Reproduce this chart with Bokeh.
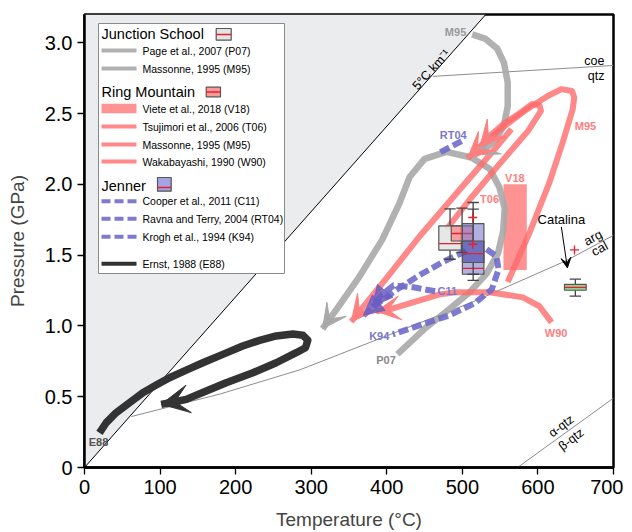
from bokeh.plotting import figure
from bokeh.models import FixedTicker, Arrow, VeeHead, NormalHead, NumeralTickFormatter
from bokeh.core.properties import value
from bokeh.embed import file_html
from bokeh.resources import INLINE

# ---------------- data (T in degC, P in GPa) ----------------
geo_T = [0, 531]
geo_P = [0, 3.2]
coe_T = [461, 700]
coe_P = [2.763, 2.84]
arg_T = [62, 180, 285, 400, 514, 637, 700]
arg_P = [0.36, 0.52, 0.69, 0.93, 1.17, 1.46, 1.64]
aq_T = [573, 700]
aq_P = [0.0, 0.49]

# Junction School
js_m95_T = [513, 530, 546, 555, 560, 560, 555, 545, 530, 516]
js_m95_P = [3.06, 3.03, 2.96, 2.86, 2.72, 2.55, 2.42, 2.32, 2.25, 2.21]
p07_T = [414, 450, 483, 510, 532, 547, 554, 556, 549, 536, 512, 479, 450, 430, 417, 394, 364, 334, 315]
p07_P = [0.80, 0.98, 1.12, 1.24, 1.37, 1.51, 1.67, 1.83, 1.98, 2.11, 2.19, 2.23, 2.18, 2.05, 1.87, 1.61, 1.35, 1.12, 0.98]
# Ring Mountain
rm_m95_T = [560, 589, 615, 633, 646, 648, 645, 631, 613, 582, 549, 525, 507]
rm_m95_P = [1.31, 1.66, 2.01, 2.30, 2.53, 2.615, 2.66, 2.673, 2.624, 2.518, 2.383, 2.27, 2.185]
t06a_T = [479, 510, 547, 587, 604, 602, 592, 576, 556, 536, 523]
t06a_P = [1.683, 1.895, 2.131, 2.378, 2.52, 2.56, 2.567, 2.503, 2.433, 2.341, 2.263]
t06b_T = [565, 543, 496, 443, 397, 353]
t06b_P = [2.39, 2.25, 1.96, 1.63, 1.32, 1.03]
w90_T = [618, 602, 580, 536, 492, 470, 439, 404, 386]
w90_P = [1.025, 1.139, 1.202, 1.238, 1.238, 1.223, 1.174, 1.117, 1.103]
v18_T = [554.4, 585.3]
v18_P = [1.395, 2.001]
# Jenner
c11a_T = [505, 476, 443, 414, 390, 369]
c11a_P = [1.528, 1.457, 1.358, 1.259, 1.167, 1.075]
c11b_T = [464, 435, 409, 394, 381]
c11b_P = [1.245, 1.273, 1.287, 1.223, 1.139]
k94_T = [532, 545, 548, 539, 516, 483, 443, 408]
k94_P = [1.542, 1.492, 1.400, 1.259, 1.160, 1.075, 1.004, 0.941]
rt04_T = [471, 499]
rt04_P = [2.228, 2.305]
# Ernst 1988
e88_T = [19.8, 28.7, 41.9, 59.5, 77.2, 94.9, 112.5, 134.6, 156.6, 183.0, 209.3, 231.6, 253.7,
         275.6, 288.9, 295.5, 292.4, 280.1, 253.7, 222.8, 187.5, 161.1, 134.6, 101.5]
e88_P = [0.245, 0.316, 0.387, 0.457, 0.528, 0.582, 0.634, 0.688, 0.740, 0.799, 0.858, 0.898, 0.929,
         0.943, 0.934, 0.900, 0.846, 0.811, 0.740, 0.669, 0.599, 0.540, 0.481, 0.446]

# box plots (pressure statistics placed at temperature)
box_T = [483.7, 499.6, 514.3, 514.3, 649.5]
box_w = [29.7, 28.6, 28.5, 28.5, 28.7]
box_q1 = [1.535, 1.600, 1.365, 1.448, 1.252]
box_q3 = [1.707, 1.707, 1.723, 1.600, 1.294]
box_med = [1.582, 1.653, 1.407, 1.511, 1.273]
box_wlo = [1.471, 1.52, 1.322, 1.365, 1.211]
box_whi = [1.827, 1.832, 1.872, 1.825, 1.330]
box_fill = ["#e4e4e4", "#ff7272", "#7070c8", "#3a3aa6", "#92d192"]
box_alpha = [0.9, 0.6, 0.55, 0.55, 1.0]
plus_T = [513.8, 513.8, 648.4]
plus_P = [1.766, 1.577, 1.537]
cat_arrow_T = [631, 639]
cat_arrow_P = [1.70, 1.41]

x_ticks = [0, 100, 200, 300, 400, 500, 600, 700]
y_ticks = [0, 0.5, 1.0, 1.5, 2.0, 2.5, 3.0]

FONT = value("Liberation Sans")
GRAY = "#a9a9a9"
RED = "#ff6a6a"
BLUE = "#6f6cca"
BLACK = "#333333"

p = figure(frame_width=529, frame_height=453, x_range=(0, 700), y_range=(0, 3.2),
           output_backend="svg", toolbar_location=None,
           min_border_left=84, min_border_top=14, min_border_right=10, min_border_bottom=50)
p.grid.visible = False
p.outline_line_color = "black"
p.outline_line_width = 2.5
p.background_fill_color = "white"
p.border_fill_color = "white"
for ax in (p.xaxis[0], p.yaxis[0]):
    ax.axis_line_width = 2.5
    ax.major_tick_line_width = 1.3
    ax.major_tick_out = 7
    ax.major_tick_in = 0
    ax.minor_tick_line_color = None
    ax.major_label_text_font = "Liberation Sans"
    ax.major_label_text_font_size = "20px"
    ax.major_label_text_color = "black"
    ax.axis_label_text_font = "Liberation Sans"
    ax.axis_label_text_font_size = "19px"
    ax.axis_label_text_font_style = "normal"
    ax.major_label_standoff = 5
p.xaxis.ticker = FixedTicker(ticks=x_ticks)
p.yaxis.ticker = FixedTicker(ticks=y_ticks)
p.yaxis.formatter = NumeralTickFormatter(format="0.0")
p.yaxis.major_label_overrides = {0: "0"}
p.xaxis.axis_label = "Temperature (\u00b0C)"
p.yaxis.axis_label = "Pressure (GPa)"
p.xaxis.axis_label_standoff = 12
p.yaxis.axis_label_standoff = 14

# page px -> data (layout helper for the hand-built legend)
def X(px):
    return (px - 85) * 700.0 / 529.0

def Y(py):
    return (468 - py) * 3.2 / 453.0

def txt(xs, ys, texts, size, color="black", align="center", bold=False, angle=0, baseline="middle"):
    p.text(x=xs, y=ys, text=texts, text_font=FONT, text_font_size=value(size),
           text_color=color, text_align=align, text_baseline=baseline,
           text_font_style="bold" if bold else "normal", angle=angle, angle_units="deg")

# forbidden zone and reaction lines
p.patch([geo_T[0], geo_T[1], geo_T[0]], [geo_P[0], geo_P[1], geo_P[1]], fill_color="#ebecee", line_alpha=0)
p.line(geo_T, geo_P, line_color="black", line_width=1)
p.line(coe_T, coe_P, line_color="#8c8c8c", line_width=1)
p.line(arg_T, arg_P, line_color="#8c8c8c", line_width=1)
p.line(aq_T, aq_P, line_color="#8c8c8c", line_width=1)

def path(T, P, color, width, alpha=1.0, dash="solid"):
    p.line(T, P, line_color=color, line_width=width, line_alpha=alpha, line_cap="butt",
           line_join="round", line_dash=dash)

def head(T, P, color, size, kind=VeeHead, alpha=1.0):
    p.add_layout(Arrow(end=kind(size=size, fill_color=color, line_color=color, line_width=1,
                                fill_alpha=alpha, line_alpha=alpha),
                       x_start=T[-2], y_start=P[-2], x_end=T[-1], y_end=P[-1], line_alpha=0))

# V18 rectangle
p.quad(left=[v18_T[0]], right=[v18_T[1]], bottom=[v18_P[0]], top=[v18_P[1]],
       fill_color=RED, fill_alpha=0.72, line_alpha=0)

# paths
path(e88_T, e88_P, BLACK, 7.5)
path(p07_T, p07_P, GRAY, 6.5, 0.9)
path(js_m95_T, js_m95_P, GRAY, 6.5, 0.9)
path(rm_m95_T, rm_m95_P, RED, 6, 0.8)
path(t06a_T, t06a_P, RED, 6, 0.8)
path(t06b_T, t06b_P, RED, 6, 0.8)
path(w90_T, w90_P, RED, 6, 0.8)
path(c11a_T, c11a_P, BLUE, 6, 0.9, "10 4")
path(c11b_T, c11b_P, BLUE, 6, 0.9, "10 4")
path(k94_T, k94_P, BLUE, 6, 0.9, "10 4")
path(rt04_T, rt04_P, BLUE, 6, 0.9, "10 4")

# box plots
for i in range(len(box_T)):
    c, hw = box_T[i], box_w[i] / 2.0
    p.segment(x0=[c, c], y0=[box_q3[i], box_q1[i]], x1=[c, c], y1=[box_whi[i], box_wlo[i]],
              line_color="#444444", line_width=1.3)
    p.segment(x0=[c - 7.5, c - 7.5], y0=[box_whi[i], box_wlo[i]], x1=[c + 7.5, c + 7.5],
              y1=[box_whi[i], box_wlo[i]], line_color="#444444", line_width=1.3)
    p.quad(left=[c - hw], right=[c + hw], bottom=[box_q1[i]], top=[box_q3[i]],
           fill_color=box_fill[i], fill_alpha=box_alpha[i], line_color="#555555", line_width=1.2)
    p.segment(x0=[c - hw], y0=[box_med[i]], x1=[c + hw], y1=[box_med[i]],
              line_color="#e8202a", line_width=1.3)
p.scatter(plus_T, plus_P, marker="cross", size=9, line_color="#e8202a", line_width=1.3)

# arrow heads
head(e88_T, e88_P, BLACK, 28)
head(p07_T, p07_P, GRAY, 24)
head(js_m95_T, js_m95_P, GRAY, 24)
head(rm_m95_T, rm_m95_P, "#ff7f7f", 26)
head(t06a_T, t06a_P, "#ff7f7f", 26)
head(t06b_T, t06b_P, "#ff7f7f", 26)
head(w90_T, w90_P, "#ff7f7f", 24)
head(c11a_T, c11a_P, "#6a5cc0", 20, NormalHead, 0.85)
head(c11b_T, c11b_P, "#6a5cc0", 20, NormalHead, 0.85)
p.add_layout(Arrow(end=VeeHead(size=10, fill_color="black", line_color="black"),
                   x_start=cat_arrow_T[0], y_start=cat_arrow_P[0],
                   x_end=cat_arrow_T[1], y_end=cat_arrow_P[1], line_width=1, line_color="black"))

# labels on the chart
txt([491], [3.076], ["M95"], "11px", "#9a9a9a", bold=True)
txt([399], [0.757], ["P07"], "11px", "#888888", bold=True)
txt([18.5], [0.18], ["E88"], "11px", "#555555", bold=True)
txt([488, 480, 390], [2.348, 1.248, 0.926], ["RT04", "C11", "K94"], "11px", "#7b78cf", bold=True)
txt([663, 536, 569.5, 624], [2.414, 1.895, 2.044, 0.948], ["M95", "T06", "V18", "W90"], "11px", "#ff8080", bold=True)
txt([631], [1.754], ["Catalina"], "13px")
txt([688, 688], [2.871, 2.765], ["coe", "qtz"], "12.5px", align="right")
txt([672.7, 681.5], [1.624, 1.547], ["arg", "cal"], "13px", angle=28)
txt([630.8, 644], [0.292, 0.198], ["\u03b1-qtz", "\u03b2-qtz"], "12.5px", angle=37)
txt([459], [2.81], ["5\u00b0C km\u207b\u00b9"], "12.5px", angle=48)

# ---------------- legend (hand-built) ----------------
p.quad(left=[X(99)], right=[X(285)], top=[Y(24)], bottom=[Y(274)], fill_color="white",
       line_color="#8a8a8a", line_width=1)
txt([X(102)] * 3, [Y(34), Y(92.7), Y(186)], ["Junction School", "Ring Mountain", "Jenner"],
    "14.5px", align="left")
ent_y = [51, 69, 109, 127, 145, 162, 201.7, 219.3, 237.3, 264.3]
ent_txt = ["Page et al., 2007 (P07)", "Massonne, 1995 (M95)", "Viete et al., 2018 (V18)",
           "Tsujimori et al., 2006 (T06)", "Massonne, 1995 (M95)", "Wakabayashi, 1990 (W90)",
           "Cooper et al., 2011 (C11)", "Ravna and Terry, 2004 (RT04)", "Krogh et al., 1994 (K94)",
           "Ernst, 1988 (E88)"]
txt([X(143)] * len(ent_y), [Y(v) for v in ent_y], ent_txt, "10.5px", align="left")
styles = [(GRAY, 0.9, "solid"), (GRAY, 0.9, "solid"), None, (RED, 0.8, "solid"), (RED, 0.8, "solid"),
          (RED, 0.8, "solid"), (BLUE, 0.9, "9 4"), (BLUE, 0.9, "9 4"), (BLUE, 0.9, "9 4"), (BLACK, 1.0, "solid")]
for yv, st in zip(ent_y, styles):
    if st is None:
        p.quad(left=[X(102)], right=[X(137)], top=[Y(yv - 4.7)], bottom=[Y(yv + 4.7)],
               fill_color=RED, fill_alpha=0.72, line_alpha=0)
    else:
        p.line([X(102), X(137)], [Y(yv), Y(yv)], line_color=st[0], line_alpha=st[1],
               line_width=4, line_dash=st[2], line_cap="butt")
icons = [(216.7, 231.7, 29, 40.7, "#e4e4e4", 35), (206.7, 221, 87.7, 97.3, "#ff9a9a", 92.5),
         (158, 171.7, 178, 191.7, "#a4a4e4", 188)]
for l, r, t, b, f, m in icons:
    p.quad(left=[X(l)], right=[X(r)], top=[Y(t)], bottom=[Y(b)], fill_color=f,
           line_color="#555555", line_width=1.2)
    p.segment(x0=[X(l)], y0=[Y(m)], x1=[X(r)], y1=[Y(m)], line_color="#e8202a", line_width=1.3)

open("out.html", "w").write(file_html(p, INLINE))
